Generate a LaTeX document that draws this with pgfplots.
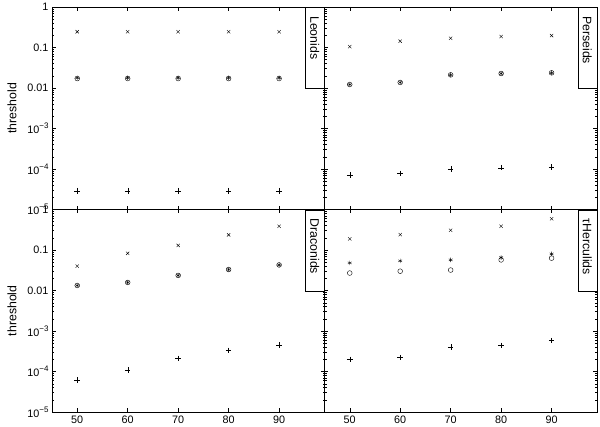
\documentclass[border=0pt]{standalone}
\usepackage{fontspec}
\setmainfont{Liberation Sans}
\usepackage{pgfplots}
\pgfplotsset{compat=1.18}
\usepgfplotslibrary{groupplots}

\newcommand\ex[1]{10\raisebox{0.85ex}{\fontsize{8}{8}\selectfont −#1}}

\pgfplotsset{
  cr/.style={only marks, mark=x, mark size=2.3pt, black, mark options={line width=0.4pt}},
  pl/.style={only marks, mark=+, mark size=2.8pt, black, mark options={line width=0.3pt}},
  ci/.style={only marks, mark=o, mark size=2.4pt, black, mark options={line width=0.4pt}},
  as/.style={only marks, mark=asterisk, mark size=2.2pt, black, mark options={line width=0.4pt}},
}
\tikzset{
  lbl/.style={draw, fill=white, rotate=-90, anchor=north west, line width=0.5pt,
    minimum height=19pt, inner xsep=9pt, text width=63pt, align=left,
    font=\fontsize{12.3}{13}\selectfont},
}

\begin{document}
\begin{tikzpicture}
\begin{groupplot}[
  group style={group size=2 by 2, horizontal sep=0pt, vertical sep=0pt,
    xticklabels at=edge bottom, yticklabels at=edge left},
  scale only axis, width=272.5pt, height=202.5pt,
  ymode=log, ymin=1e-5, ymax=1,
  xmin=45, xmax=99,
  xtick={50,60,70,80,90},
  ytick={1e-5,1e-4,1e-3,0.01,0.1,1},
  minor ytick={2e-5,3e-5,4e-5,5e-5,6e-5,7e-5,8e-5,9e-5,
    2e-4,3e-4,4e-4,5e-4,6e-4,7e-4,8e-4,9e-4,
    2e-3,3e-3,4e-3,5e-3,6e-3,7e-3,8e-3,9e-3,
    0.02,0.03,0.04,0.05,0.06,0.07,0.08,0.09,
    0.2,0.3,0.4,0.5,0.6,0.7,0.8,0.9},
  yticklabels={\ex{5},\ex{4},\ex{3},0.01,0.1,1},
  /pgf/number format/assume math mode=true,
  tick label style={font=\fontsize{10.8}{12}\selectfont},
  ylabel style={font=\fontsize{12.3}{14}\selectfont, at={(rel axis cs:0,0.5)},
    anchor=center, rotate=0, yshift=40pt},
  axis line style={line width=0.6pt},
  major tick length=3.6pt,
  minor tick length=2pt,
  every tick/.style={black, line width=0.4pt},
]
% Leonids
\nextgroupplot[ylabel={threshold}]
\addplot[cr] coordinates {(50,0.245)(60,0.245)(70,0.245)(80,0.245)(90,0.245)};
\addplot[ci] coordinates {(50,0.0171)(60,0.0171)(70,0.0171)(80,0.0171)(90,0.0171)};
\addplot[as] coordinates {(50,0.0178)(60,0.0178)(70,0.0178)(80,0.0178)(90,0.0178)};
\addplot[pl] coordinates {(50,2.9e-5)(60,2.9e-5)(70,2.9e-5)(80,2.9e-5)(90,2.9e-5)};
\node[lbl] at (rel axis cs:1,1) {Leonids};
% Perseids
\nextgroupplot
\addplot[cr] coordinates {(50,0.105)(60,0.143)(70,0.169)(80,0.186)(90,0.197)};
\addplot[ci] coordinates {(50,0.0122)(60,0.0137)(70,0.0211)(80,0.0228)(90,0.0237)};
\addplot[as] coordinates {(50,0.0122)(60,0.0137)(70,0.0211)(80,0.0228)(90,0.0237)};
\addplot[pl] coordinates {(50,7.1e-5)(60,7.8e-5)(70,1.0e-4)(80,1.08e-4)(90,1.12e-4)};
\node[lbl] at (rel axis cs:1,1) {Perseids};
% Draconids
\nextgroupplot[ylabel={threshold}]
\addplot[cr] coordinates {(50,0.040)(60,0.083)(70,0.13)(80,0.236)(90,0.385)};
\addplot[ci] coordinates {(50,0.0133)(60,0.0158)(70,0.0236)(80,0.033)(90,0.0428)};
\addplot[as] coordinates {(50,0.0133)(60,0.0158)(70,0.0236)(80,0.033)(90,0.0428)};
\addplot[pl] coordinates {(50,6.2e-5)(60,1.08e-4)(70,2.1e-4)(80,3.3e-4)(90,4.5e-4)};
\node[lbl] at (rel axis cs:1,1) {Draconids};
% tau Herculids
\nextgroupplot
\addplot[cr] coordinates {(50,0.188)(60,0.24)(70,0.307)(80,0.386)(90,0.59)};
\addplot[ci] coordinates {(50,0.027)(60,0.030)(70,0.032)(80,0.057)(90,0.063)};
\addplot[as] coordinates {(50,0.048)(60,0.054)(70,0.057)(80,0.065)(90,0.080)};
\addplot[pl] coordinates {(50,2.0e-4)(60,2.2e-4)(70,4.0e-4)(80,4.4e-4)(90,5.8e-4)};
\node[lbl] at (rel axis cs:1,1) {τHerculids};
\end{groupplot}
\pgfresetboundingbox
\path[use as bounding box] ([xshift=-52pt,yshift=7pt]group c1r1.north west)
  rectangle ([xshift=3pt,yshift=-14pt]group c2r2.south east);
\end{tikzpicture}
\end{document}
